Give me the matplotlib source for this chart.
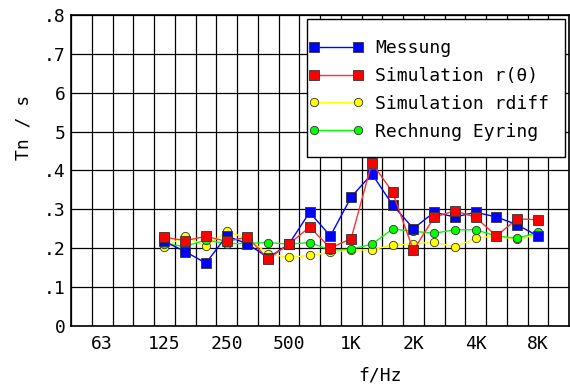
import matplotlib
matplotlib.use('Agg')
import matplotlib.pyplot as plt
from matplotlib.patches import Rectangle

# third-octave bands on the axis (one cell each), 50 Hz .. 10 kHz
bands = ['50', '63', '80', '100', '125', '160', '200', '250', '315', '400', '500',
         '630', '800', '1K', '1.25K', '1.6K', '2K', '2.5K', '3.15K', '4K', '5K',
         '6.3K', '8K', '10K']
label_bands = ['63', '125', '250', '500', '1K', '2K', '4K', '8K']
data_bands = ['125', '160', '200', '250', '315', '400', '500', '630', '800', '1K',
              '1.25K', '1.6K', '2K', '2.5K', '3.15K', '4K', '5K', '6.3K', '8K']

messung = [0.217, 0.191, 0.161, 0.231, 0.211, 0.175, 0.210, 0.292, 0.231, 0.331,
           0.391, 0.311, 0.250, 0.292, 0.280, 0.292, 0.280, 0.260, 0.231]
sim_r = [0.228, 0.219, 0.230, 0.217, 0.228, 0.172, 0.210, 0.254, 0.200, 0.224,
         0.419, 0.344, 0.194, 0.279, 0.296, 0.279, 0.231, 0.275, 0.273]
sim_rdiff = [0.202, 0.231, 0.204, 0.243, 0.225, 0.185, 0.176, 0.181, 0.189, 0.195,
             0.195, 0.208, 0.210, 0.216, 0.202, 0.226, 0.231, 0.222, 0.235]
eyring = [0.211, 0.204, 0.221, 0.211, 0.212, 0.214, 0.210, 0.214, 0.195, 0.197,
          0.210, 0.249, 0.243, 0.238, 0.247, 0.247, 0.231, 0.225, 0.240]

yticks = [0, 0.1, 0.2, 0.3, 0.4, 0.5, 0.6, 0.7, 0.8]
ylabels = ['0', '.1', '.2', '.3', '.4', '5', '6', '.7', '.8']

plt.rcParams['font.family'] = 'DejaVu Sans Mono'
plt.rcParams['font.size'] = 13

fig = plt.figure(figsize=(5.7, 3.87), dpi=100)
ax = fig.add_axes([71/570, 61.3/387, 498/570, 310.7/387])

x = [bands.index(b) + 0.5 for b in data_bands]
l_rd, = ax.plot(x, sim_rdiff, '-o', color='#ffff00', lw=1, ms=6, mfc='#ffff00',
                mec='#333333', mew=0.6, zorder=3, label='Simulation rdiff')
l_ey, = ax.plot(x, eyring, '-o', color='#00ff00', lw=1, ms=6, mfc='#00ff00',
                mec='#333333', mew=0.6, zorder=4, label='Rechnung Eyring')
l_me, = ax.plot(x, messung, '-s', color='#0000ff', lw=1, ms=6.5, mfc='#0000ff',
                mec='#333333', mew=0.6, zorder=5, label='Messung')
l_sr, = ax.plot(x, sim_r, '-s', color='#ff3030', lw=1, ms=6.5, mfc='#ff0000',
                mec='#333333', mew=0.6, zorder=6, label='Simulation r(\u03b8)')

ax.set_xlim(0, len(bands))
ax.set_ylim(0, 0.8)
for i in range(len(bands) + 1):
    ax.axvline(i, color='black', lw=0.9, zorder=1)
for v in yticks:
    ax.axhline(v, color='black', lw=0.9, zorder=1)

ax.set_xticks([bands.index(b) + 0.5 for b in label_bands])
ax.set_xticklabels(label_bands)
ax.set_yticks(yticks)
ax.set_yticklabels(ylabels)
ax.tick_params(length=0, pad=4)
ax.tick_params(axis='x', pad=7)
for s in ax.spines.values():
    s.set_linewidth(1.2)

# legend frame drawn separately so the padding can match the original
box = Rectangle((0.474, 0.543), 0.518, 0.444, transform=ax.transAxes,
                facecolor='white', edgecolor='black', lw=1.0, zorder=9)
ax.add_patch(box)
leg = ax.legend(handles=[l_me, l_sr, l_rd, l_ey], loc='upper left',
                bbox_to_anchor=(0.477, 0.923), frameon=False,
                numpoints=2, handlelength=3.05, handletextpad=0.64,
                labelspacing=0.55, borderpad=0, borderaxespad=0)
leg.set_zorder(10)

fig.text(380/570, 2/387, 'f/Hz', ha='center', va='bottom')
fig.text(23/570, 1 - 127/387, 'Tn / s', rotation=90, ha='center', va='center')

fig.savefig('out.png', dpi=100)
